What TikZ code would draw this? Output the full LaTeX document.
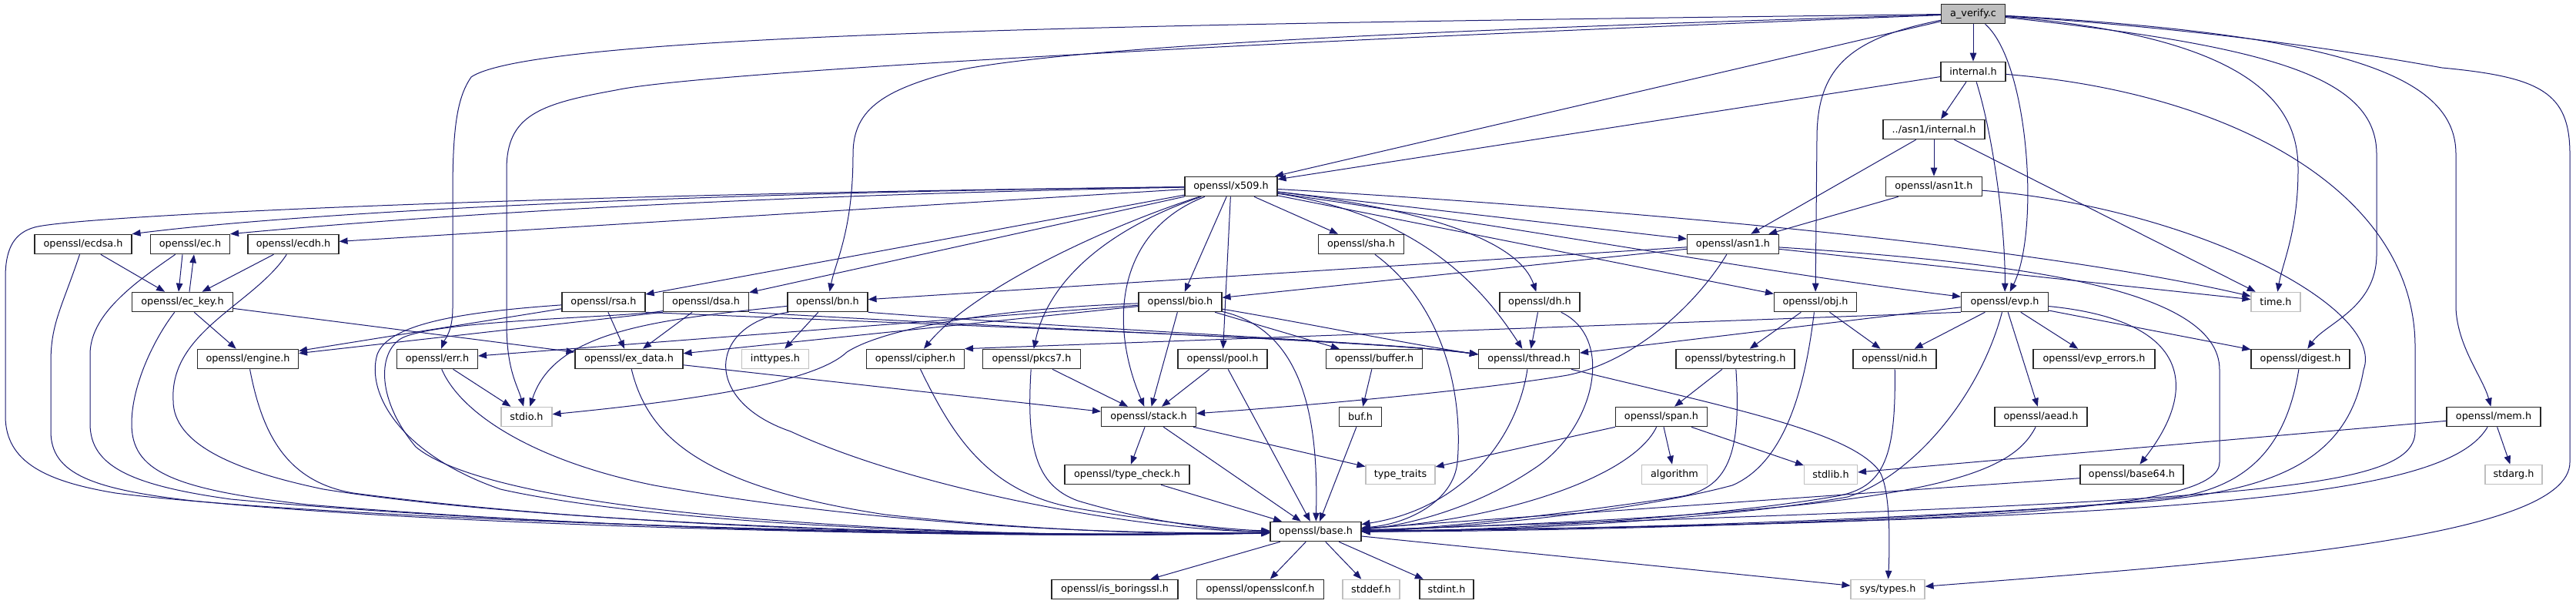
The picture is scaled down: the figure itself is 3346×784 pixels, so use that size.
\documentclass[tikz,border=0pt]{standalone}
\usepackage{fontspec}
\setmainfont{DejaVu Sans}
\usetikzlibrary{arrows.meta}
\definecolor{edgeblue}{RGB}{25,25,112}
\definecolor{sysgray}{RGB}{191,191,191}
\definecolor{avgray}{RGB}{191,191,191}
\definecolor{boxline}{RGB}{40,40,40}
\tikzset{
  nd/.style={draw=boxline, line width=1.1pt, fill=white, rectangle, minimum height=25.5pt, inner sep=0pt, font=\fontsize{12.8}{15}\selectfont, text=black},
  sys/.style={nd, draw=sysgray},
  e/.style={draw=edgeblue, line width=1pt, -{Triangle[length=11pt,width=8.5pt]}}
}
\begin{document}
\begin{tikzpicture}[x=1pt,y=-1pt]
\fill[white] (0,0) rectangle (3346,784);
\useasboundingbox (0,0) rectangle (3346,784);
% nodes
\node[nd, minimum width=83pt, fill=avgray] (av) at (2563,18) {a\_verify.c};
\node[nd, minimum width=84pt] (intl) at (2563,93) {internal.h};
\node[nd, minimum width=132pt] (asnint) at (2512,168) {../asn1/internal.h};
\node[nd, minimum width=125pt] (asn1t) at (2512,242) {openssl/asn1t.h};
\node[nd, minimum width=120pt] (x509) at (1599,242) {openssl/x509.h};
\node[nd, minimum width=126pt] (ecdsa) at (108,317) {openssl/ecdsa.h};
\node[nd, minimum width=103pt] (ec) at (247,317) {openssl/ec.h};
\node[nd, minimum width=118pt] (ecdh) at (381,317) {openssl/ecdh.h};
\node[nd, minimum width=111pt] (sha) at (1768,317) {openssl/sha.h};
\node[nd, minimum width=119pt] (asn1) at (2251,317) {openssl/asn1.h};
\node[nd, minimum width=131pt] (eckey) at (237,392) {openssl/ec\_key.h};
\node[nd, minimum width=108pt] (rsa) at (784,392) {openssl/rsa.h};
\node[nd, minimum width=111pt] (dsa) at (917,392) {openssl/dsa.h};
\node[nd, minimum width=104pt] (bn) at (1075,392) {openssl/bn.h};
\node[nd, minimum width=108pt] (bio) at (1533,392) {openssl/bio.h};
\node[nd, minimum width=104pt] (dh) at (2000,392) {openssl/dh.h};
\node[nd, minimum width=107pt] (obj) at (2358,392) {openssl/obj.h};
\node[nd, minimum width=113pt] (evp) at (2604,392) {openssl/evp.h};
\node[sys, minimum width=64pt] (time) at (2956,392) {time.h};
\node[nd, minimum width=131pt] (engine) at (322,466) {openssl/engine.h};
\node[nd, minimum width=105pt] (err) at (568,466) {openssl/err.h};
\node[nd, minimum width=140pt] (exdata) at (817,466) {openssl/ex\_data.h};
\node[sys, minimum width=87pt] (inttypes) at (1007,466) {inttypes.h};
\node[nd, minimum width=127pt] (cipher) at (1189,466) {openssl/cipher.h};
\node[nd, minimum width=127pt] (pkcs7) at (1340,466) {openssl/pkcs7.h};
\node[nd, minimum width=116pt] (pool) at (1588,466) {openssl/pool.h};
\node[nd, minimum width=125pt] (buffer) at (1785,466) {openssl/buffer.h};
\node[nd, minimum width=131pt] (thread) at (1986,466) {openssl/thread.h};
\node[nd, minimum width=154pt] (bytes) at (2254,466) {openssl/bytestring.h};
\node[nd, minimum width=108pt] (nid) at (2461,466) {openssl/nid.h};
\node[nd, minimum width=158pt] (evperr) at (2720,466) {openssl/evp\_errors.h};
\node[nd, minimum width=128pt] (digest) at (2988,466) {openssl/digest.h};
\node[sys, minimum width=66pt] (stdio) at (684,541) {stdio.h};
\node[nd, minimum width=123pt] (stack) at (1492,541) {openssl/stack.h};
\node[nd, minimum width=55pt] (buf) at (1767,541) {buf.h};
\node[nd, minimum width=119pt] (span) at (2158,541) {openssl/span.h};
\node[nd, minimum width=120pt] (aead) at (2651,541) {openssl/aead.h};
\node[nd, minimum width=122pt] (mem) at (3239,541) {openssl/mem.h};
\node[nd, minimum width=162pt] (tcheck) at (1464,616) {openssl/type\_check.h};
\node[sys, minimum width=90pt] (ttraits) at (1819,616) {type\_traits};
\node[sys, minimum width=85pt] (algo) at (2175,616) {algorithm};
\node[sys, minimum width=69pt] (stdlib) at (2378,616) {stdlib.h};
\node[nd, minimum width=134pt] (b64) at (2769,616) {openssl/base64.h};
\node[sys, minimum width=74pt] (stdarg) at (3265,616) {stdarg.h};
\node[nd, minimum width=118pt] (base) at (1709,690) {openssl/base.h};
\node[nd, minimum width=164pt] (isbssl) at (1448,765) {openssl/is\_boringssl.h};
\node[nd, minimum width=165pt] (oconf) at (1637,765) {openssl/opensslconf.h};
\node[sys, minimum width=74pt] (stddef) at (1781,765) {stddef.h};
\node[nd, minimum width=70pt] (stdint) at (1879,765) {stdint.h};
\node[sys, minimum width=96pt] (systypes) at (2452,765) {sys/types.h};

% a_verify.c
\draw[e] (av) -- (x509);
\draw[e] (av) -- (intl);
\draw[e] (av) .. controls (2400,50) and (2360,90) .. (2360,180) -- (obj);
\draw[e] (av) .. controls (2635,80) and (2650,300) .. (evp);
\draw[e] (av) .. controls (2950,50) and (2985,150) .. (2985,220) .. controls (2985,300) and (2965,340) .. (time);
\draw[e] (av) .. controls (2950,60) and (3087,100) .. (3087,200) -- (3087,330) .. controls (3087,400) and (3020,420) .. (digest);
\draw[e] (av) .. controls (3050,45) and (3190,100) .. (3190,200) -- (3190,400) .. controls (3192,450) and (3225,490) .. (mem);
\draw[e] (av) .. controls (2900,40) and (3100,75) .. (3172,88) .. controls (3300,100) and (3338,120) .. (3338,200) -- (3338,600) .. controls (3338,700) and (2900,730) .. (systypes);
\draw[e] (av) .. controls (1800,40) and (1400,62) .. (1250,90) .. controls (1150,115) and (1108,140) .. (1108,200) .. controls (1108,300) and (1085,340) .. (bn);
\draw[e] (av) .. controls (1600,30) and (700,40) .. (612,100) .. controls (595,125) and (588,160) .. (588,250) -- (588,400) .. controls (588,430) and (578,440) .. (err);
\draw[e] (av) .. controls (1600,55) and (900,95) .. (800,117) .. controls (700,135) and (658,150) .. (658,220) -- (658,420) .. controls (658,480) and (672,500) .. (stdio);
% internal.h
\draw[e] (intl) -- (x509);
\draw[e] (intl) -- (asnint);
\draw[e] (intl) .. controls (2590,180) and (2605,300) .. (evp);
\draw[e] (intl) .. controls (2900,120) and (3137,250) .. (3137,450) -- (3137,560) .. controls (3137,640) and (2900,650) .. (base);
% ../asn1/internal.h
\draw[e] (asnint) -- (asn1t);
\draw[e] (asnint) -- (asn1);
\draw[e] (asnint) -- (time);
% asn1t.h
\draw[e] (asn1t) -- (asn1);
\draw[e] (asn1t) .. controls (2850,270) and (3100,400) .. (3070,480) .. controls (3050,600) and (2950,635) .. (2800,650) .. controls (2400,680) and (2000,688) .. (base);
% x509.h
\draw[e] (x509) .. controls (900,250) and (400,275) .. (ecdsa.north east);
\draw[e] (x509) .. controls (900,255) and (500,285) .. (ec.north east);
\draw[e] (x509) -- (ecdh);
\draw[e] (x509) .. controls (700,252) and (100,280) .. (45,295) .. controls (20,302) and (7,320) .. (7,360) -- (7,540) .. controls (7,600) and (60,625) .. (150,640) .. controls (400,672) and (1200,700) .. (base);
\draw[e] (x509) -- (rsa);
\draw[e] (x509) -- (dsa);
\draw[e] (x509) -- (bio);
\draw[e] (x509) .. controls (1420,300) and (1260,380) .. (cipher);
\draw[e] (x509) .. controls (1430,300) and (1360,370) .. (pkcs7);
\draw[e] (x509) -- (pool);
\draw[e] (x509) .. controls (1450,300) and (1440,420) .. (stack);
\draw[e] (x509) -- (sha);
\draw[e] (x509) .. controls (1850,280) and (1930,380) .. (thread);
\draw[e] (x509) .. controls (1880,275) and (1975,320) .. (dh);
\draw[e] (x509) -- (asn1);
\draw[e] (x509) -- (obj);
\draw[e] (x509) .. controls (2000,300) and (2300,355) .. (evp);
\draw[e] (x509) .. controls (2000,265) and (2600,310) .. (time);
% asn1.h
\draw[e] (asn1) -- (bn);
\draw[e] (asn1) -- (bio);
\draw[e] (asn1) -- (time);
\draw[e] (asn1) .. controls (2200,400) and (2120,470) .. (2036,487) .. controls (1900,510) and (1650,530) .. (stack);
\draw[e] (asn1) .. controls (2600,340) and (2883,370) .. (2883,480) -- (2883,600) .. controls (2883,660) and (2600,680) .. (base);
% ec family
\draw[e] (ecdsa) -- (eckey);
\draw[e] (ecdsa) .. controls (80,400) and (66,420) .. (66,470) -- (66,560) .. controls (66,615) and (120,635) .. (250,650) .. controls (600,685) and (1300,700) .. (base);
\draw[e] ([xshift=-10pt]ec.south) -- ([xshift=-5pt]eckey.north);
\draw[e] ([xshift=9pt]eckey.north) -- ([xshift=5pt]ec.south);
\draw[e] (ec) .. controls (170,370) and (117,410) .. (117,460) -- (117,550) .. controls (117,605) and (170,630) .. (300,648) .. controls (700,685) and (1300,700) .. (base);
\draw[e] (ecdh) -- (eckey);
\draw[e] (ecdh) .. controls (330,395) and (220,430) .. (225,520) .. controls (225,575) and (300,610) .. (420,635) .. controls (700,680) and (1300,700) .. (base);
\draw[e] (eckey) -- (engine);
\draw[e] (eckey) -- (exdata);
\draw[e] (eckey) .. controls (200,440) and (171,500) .. (171,550) .. controls (171,610) and (220,635) .. (400,655) .. controls (800,688) and (1300,700) .. (base);
% rsa / dsa
\draw[e] (rsa) -- (engine);
\draw[e] (rsa) -- (exdata);
\draw[e] (rsa.south east) .. controls (1300,425) and (1800,442) .. ([yshift=6pt]thread.west);
\draw[e] (rsa) .. controls (600,405) and (505,420) .. (490,460) .. controls (475,510) and (520,590) .. (650,635) .. controls (850,680) and (1300,700) .. (base);
\draw[e] (dsa.south west) -- (engine);
\draw[e] (dsa) -- (exdata);
\draw[e] (dsa.south east) .. controls (1350,428) and (1800,443) .. ([yshift=6pt]thread.west);
\draw[e] (dsa) .. controls (820,412) and (560,415) .. (520,440) .. controls (490,460) and (490,520) .. (540,580) .. controls (600,630) and (800,660) .. (1000,675) .. controls (1200,690) and (1400,698) .. (base);
% bn.h
\draw[e] (bn) -- (inttypes);
\draw[e] (bn) .. controls (850,415) and (720,430) .. (stdio);
\draw[e] (bn.south east) .. controls (1450,430) and (1800,444) .. ([yshift=6pt]thread.west);
\draw[e] ([xshift=2pt]bn.south west) .. controls (920,420) and (910,520) .. (1027,560) .. controls (1200,640) and (1500,690) .. (base);
% bio.h
\draw[e] (bio) .. controls (1300,400) and (1150,425) .. (1100,457) .. controls (1065,490) and (950,515) .. (stdio);
\draw[e] (bio) -- (err);
\draw[e] (bio) -- (exdata);
\draw[e] (bio) -- (buffer);
\draw[e] (bio) -- (stack);
\draw[e] (bio) .. controls (1700,420) and (1820,445) .. ([yshift=6pt]thread.west);
\draw[e] (bio) .. controls (1700,430) and (1712,560) .. (base);
% misc to base
\draw[e] (engine) .. controls (340,560) and (370,625) .. (459,640) .. controls (800,685) and (1300,700) .. (base);
\draw[e] (err) -- (stdio);
\draw[e] (err) .. controls (600,540) and (700,600) .. (850,630) .. controls (1100,675) and (1400,695) .. (base);
\draw[e] (exdata) -- (stack);
\draw[e] (exdata) .. controls (840,560) and (900,630) .. (1150,668) .. controls (1350,690) and (1550,695) .. (base);
\draw[e] (cipher) .. controls (1235,560) and (1280,640) .. (1400,660) .. controls (1500,677) and (1600,688) .. (base);
\draw[e] (pkcs7) -- (stack);
\draw[e] (pkcs7) .. controls (1333,580) and (1345,630) .. (1400,650) .. controls (1500,680) and (1600,690) .. (base);
\draw[e] (pool) -- (stack);
\draw[e] (pool) -- (base);
\draw[e] (buffer) -- (buf);
\draw[e] (buf) -- (base);
\draw[e] (sha) .. controls (1880,400) and (1900,520) .. (1893,600) .. controls (1888,650) and (1830,680) .. (base);
\draw[e] (dh) -- (thread);
\draw[e] (dh) .. controls (2100,440) and (2070,560) .. (1990,610) .. controls (1900,670) and (1800,685) .. (base);
\draw[e] (thread) .. controls (1970,570) and (1900,660) .. (base);
\draw[e] (thread) .. controls (2250,530) and (2400,560) .. (2440,610) .. controls (2455,630) and (2455,700) .. (systypes);
% obj / bytestring / span
\draw[e] (obj) -- (bytes);
\draw[e] (obj) -- (nid);
\draw[e] (obj) .. controls (2345,500) and (2320,600) .. (2250,630) .. controls (2100,670) and (1850,688) .. (base);
\draw[e] (bytes) -- (span);
\draw[e] (bytes) .. controls (2262,590) and (2245,635) .. (2180,645) .. controls (2050,665) and (1850,688) .. (base);
\draw[e] (nid) .. controls (2463,600) and (2445,635) .. (2380,645) .. controls (2200,675) and (1900,690) .. (base);
\draw[e] (span) -- (ttraits);
\draw[e] (span) -- (algo);
\draw[e] (span) -- (stdlib);
\draw[e] (span) .. controls (2120,620) and (1950,675) .. (base);
% evp.h
\draw[e] (evp) -- (thread);
\draw[e] (evp.south west) -- (cipher.north east);
\draw[e] (evp) -- (nid);
\draw[e] (evp) -- (evperr);
\draw[e] (evp) -- (aead);
\draw[e] (evp) -- (digest);
\draw[e] (evp) .. controls (2840,415) and (2860,500) .. (b64);
\draw[e] (evp) .. controls (2570,520) and (2480,620) .. (2400,645) .. controls (2200,680) and (1900,690) .. (base);
\draw[e] (digest) .. controls (2970,580) and (2920,630) .. (2830,645) .. controls (2500,680) and (2000,690) .. (base);
\draw[e] (aead) .. controls (2610,620) and (2500,665) .. (base);
\draw[e] (b64) -- (base);
% mem.h
\draw[e] (mem) -- (stdlib);
\draw[e] (mem) -- (stdarg);
\draw[e] (mem) .. controls (3180,640) and (2900,675) .. (base);
% stack.h
\draw[e] (stack) -- (tcheck);
\draw[e] (stack) -- (ttraits);
\draw[e] (stack) -- (base);
\draw[e] (tcheck) -- (base);
% base.h
\draw[e] (base) -- (isbssl);
\draw[e] (base) -- (oconf);
\draw[e] (base) -- (stddef);
\draw[e] (base) -- (stdint);
\draw[e] (base) -- (systypes);
\end{tikzpicture}
\end{document}
